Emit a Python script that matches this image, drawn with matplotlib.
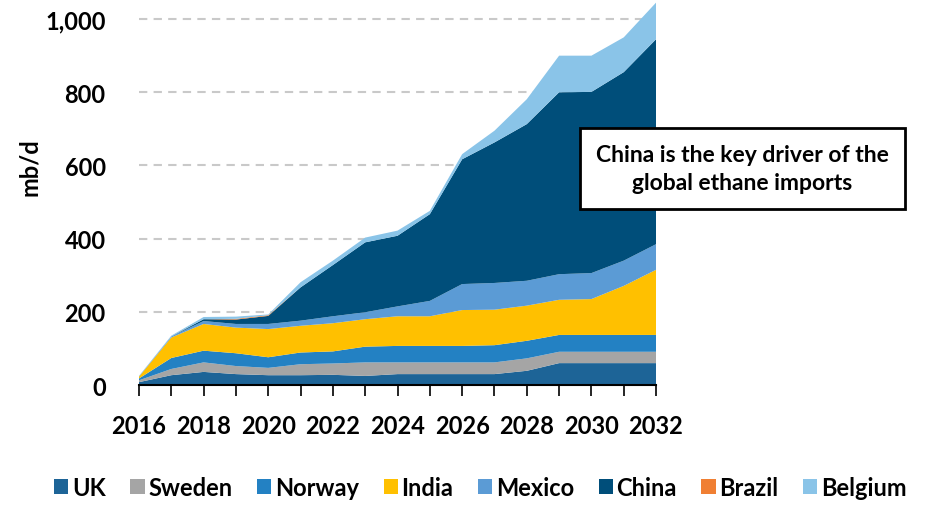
import matplotlib
matplotlib.use("Agg")
import matplotlib.pyplot as plt
from matplotlib.patches import Patch

plt.rcParams['font.family'] = ['Lato', 'DejaVu Sans']
plt.rcParams['font.weight'] = 'bold'

years = list(range(2016, 2033))
uk      = [8, 27, 36, 30, 27, 27, 28, 25, 30, 30, 30, 30, 39, 60, 60, 60, 60]
sweden  = [5, 17, 26, 22, 20, 30, 31, 37, 32, 32, 32, 32, 34, 31, 31, 31, 31]
norway  = [5, 30, 32, 35, 29, 32, 33, 43, 45, 45, 45, 47, 48, 46, 46, 46, 46]
india   = [5, 56, 73, 70, 77, 73, 77, 75, 81, 81, 98, 97, 96, 96, 98, 134, 178]
mexico  = [1, 3, 8, 10, 14, 14, 19, 19, 27, 42, 71, 73, 68, 70, 71, 69, 70]
china   = [0, 0, 5, 12, 22, 91, 140, 191, 193, 237, 341, 384, 428, 497, 495, 515, 560]
brazil  = [0, 0, 0, 2, 2, 0, 0, 0, 0, 0, 0, 0, 0, 0, 0, 0, 0]
belgium = [1, 2, 6, 6, 2, 14, 12, 13, 14, 9, 14, 32, 68, 100, 99, 95, 100]

names = ['UK', 'Sweden', 'Norway', 'India', 'Mexico', 'China', 'Brazil', 'Belgium']
series = [uk, sweden, norway, india, mexico, china, brazil, belgium]
colors = ['#1D6497', '#A5A5A5', '#2381C3', '#FFC000', '#5B9BD5', '#004E7A', '#F07F33', '#8AC4E8']

fig = plt.figure(figsize=(9.29, 5.06), dpi=100)
ax = fig.add_axes([0.1496, 0.237, 0.5566, 0.7595])

ax.stackplot(years, *series, colors=colors, linewidth=0)

ax.set_xlim(2016, 2032)
ax.set_ylim(0, 1050)
ax.set_yticks([0, 200, 400, 600, 800, 1000])
ax.set_yticklabels(['0', '200', '400', '600', '800', '1,000'])
ax.set_xticks(years, minor=True)
ax.set_xticks(list(range(2016, 2033, 2)))
ax.tick_params(axis='x', which='both', direction='out', length=8, width=1.2,
               color='black', labelsize=17, pad=13)
ax.tick_params(axis='y', length=0, labelsize=17, pad=24)

# dashed horizontal gridlines behind the stacked areas
for y in [200, 400, 600, 800, 1000]:
    ax.axhline(y, color='#C9C9C9', linewidth=1.5, linestyle=(0, (4, 3)), zorder=0)

for s in ['top', 'right', 'left']:
    ax.spines[s].set_visible(False)
ax.spines['bottom'].set_linewidth(1.5)
ax.set_ylabel('mb/d', fontsize=17, fontweight='bold')
ax.yaxis.set_label_coords(-0.19, 0.57)

fig.text(0.799, 0.665, 'China is the key driver of the\nglobal ethane imports',
         ha='center', va='center', fontsize=16.5, linespacing=1.4,
         bbox=dict(boxstyle='square,pad=0.7', facecolor='white',
                   edgecolor='black', linewidth=2))

handles = [Patch(facecolor=c, edgecolor='none') for c in colors]
fig.legend(handles, names, loc='center', bbox_to_anchor=(0.517, 0.035), ncol=8,
           frameon=False, fontsize=17, handlelength=0.6, handleheight=0.6,
           handletextpad=0.15, columnspacing=1.05)

fig.savefig('out.png', dpi=100)
